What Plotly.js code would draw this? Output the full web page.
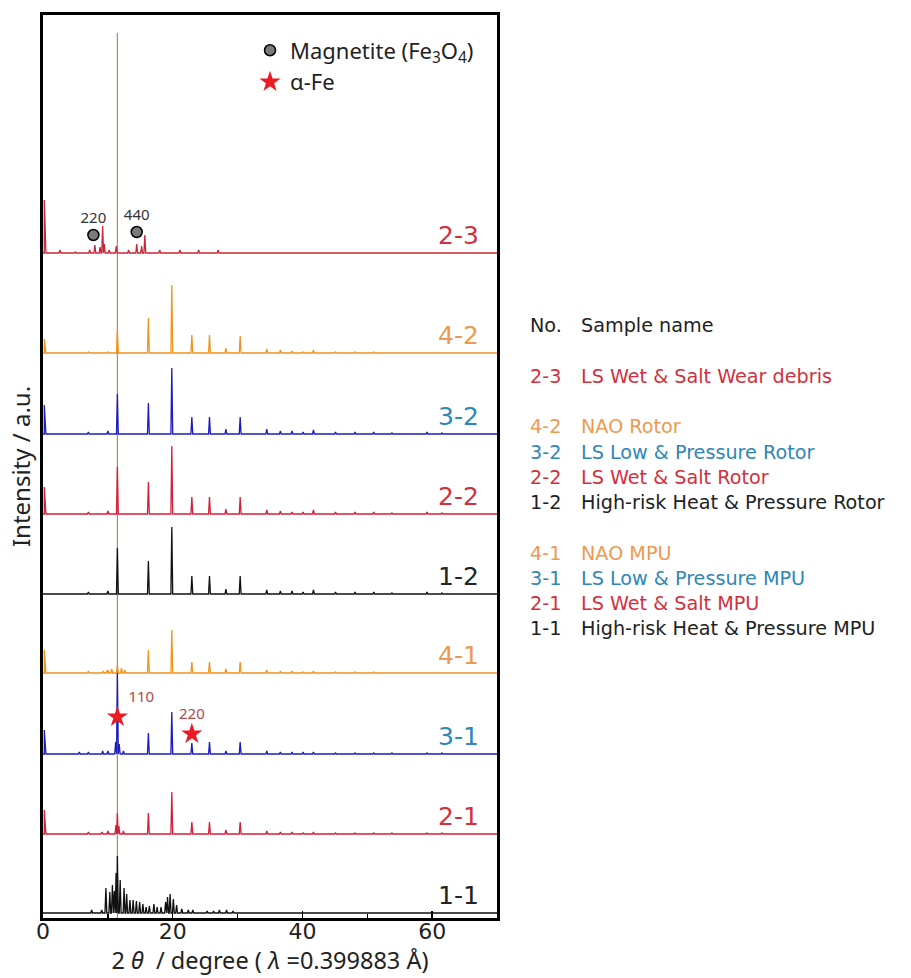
<!DOCTYPE html>
<html>
<head>
<meta charset="utf-8">
<script src="https://cdn.plot.ly/plotly-3.0.1.min.js"></script>
<style>html,body{margin:0;padding:0;background:#fff;}#chart{width:911px;height:978px;}</style>
</head>
<body>
<div id="chart"></div>
<script>
// ---------------- DATA ----------------
const sampleNo   = ['2-3','4-2','3-2','2-2','1-2','4-1','3-1','2-1','1-1'];
const sampleName = ['LS Wet & Salt Wear debris','NAO Rotor','LS Low & Pressure Rotor','LS Wet & Salt Rotor',
                    'High-risk Heat & Pressure Rotor','NAO MPU','LS Low & Pressure MPU','LS Wet & Salt MPU',
                    'High-risk Heat & Pressure MPU'];
// vertical stacking offsets (a.u.)
const offsets = [665, 565, 484, 404, 324, 245, 164, 84, 5];

// common diffraction peak positions (2θ, degree) for rotor / MPU samples
const phasePos = [7.0,10.0,11.47,16.25,19.86,22.95,25.67,28.2,30.4,34.5,36.6,38.4,40.1,41.7,45.1,48.1,51.0,53.8,59.2,61.5];
const int_4_2  = [1,1,23,35,68,18,18,5,17,4,3,2,1,3,1,1,1,0,0,0];
const int_3_2  = [2,3,40,31,66,17,17,5,17,5,3,3,2,4,2,2,2,1,2,1];
const int_2_2  = [2,3,47,32,68,17,17,5,17,4,3,2,2,4,2,2,2,1,2,1];
const int_1_2  = [2,3,46,33,67,18,18,5,18,4,3,3,2,4,2,2,2,1,2,1];
const int_4_1  = [2,3,8,23,43,11,11,4,11,3,2,2,1,2,1,1,1,0,0,0];
const int_3_1  = [2,3,81,21,42,11,12,3,12,3,2,2,2,2,1,1,1,1,1,1];
const int_2_1  = [2,3,21,21,42,12,12,4,12,3,2,2,1,2,1,1,1,1,1,1];
// additional small reflections
const extraPos_4_1 = [9.3,9.9,10.6,12.1,12.6];
const extraInt_4_1 = [2,3,4,5,3];
const extraPos_3_1 = [5.6,9.2,11.2,11.75,12.4];
const extraInt_3_1 = [2,3,12,10,3];
const extraPos_2_1 = [9.1,11.25,11.7,12.4];
const extraInt_2_1 = [2,9,8,3];

// 2-3 wear debris
const pos_2_3 = [2.6,5.0,7.2,8.0,8.8,9.2,9.45,10.2,11.3,13.2,14.45,15.2,15.7,18.0,21.1,24.0,27.0];
const int_2_3 = [3,1,3,8,6,27,9,3,7,3,9,7,18,3,3,3,3];

// 1-1 MPU
const pos_1_1 = [7.5,9.05,9.7,10.3,10.7,11.0,11.27,11.47,11.9,12.5,12.9,13.4,13.9,14.4,14.9,15.4,15.9,16.4,17.1,17.6,
                 18.2,18.9,19.2,19.6,20.1,20.6,21.4,22.4,23.1,25.3,26.3,27.2,28.3,29.3];
const int_1_1 = [3,3,25,21,28,22,40,57,33,25,19,13,13,12,11,9,6,7,9,6,
                 6,11,16,19,14,8,4,3,3,2,2,3,3,2];

// intensity at the low-angle edge (2θ ≈ 0)
const edgeInt = [53, 14, 29, 27, 0, 23, 24, 24, 0];

// reference 2θ line
const refTheta = 11.47;
const refTop = 885;

// phase markers
const magnetitePos = [7.77, 14.45];
const magnetiteHkl = ['220','440'];
const alphaFePos = [11.47, 22.95];
const alphaFeHkl = ['110','220'];

// ---------------- STYLE ----------------
const ORANGE = '#ee9420', BLUE = '#1c1cc0', RED = '#d41f3a', BLACK = '#111111';
const lineColors = ['#c8283a', ORANGE, BLUE, RED, BLACK, ORANGE, BLUE, RED, BLACK];
const labelColors = ['#d2303c','#ec9a50','#2f86b8','#d2303c','#222222','#ec9a50','#2f86b8','#d2303c','#222222'];
const FONT = 'Noto Sans, Open Sans, DejaVu Sans, sans-serif';
const WIDE = 'DejaVu Sans, Verdana, sans-serif';

function profile(pos, ints, edge) {
  const pairs = pos.map((p, i) => [p, ints[i]]).sort((a, b) => a[0] - b[0]);
  const xs = [0], ys = [0];
  if (edge > 0) { xs.push(0.2, 0.2, 0.45); ys.push(0, edge, 0); }
  const W = 0.14;
  pairs.forEach((pr, i) => {
    const prev = i > 0 ? pairs[i - 1][0] : -1;
    const next = i < pairs.length - 1 ? pairs[i + 1][0] : 100;
    const wl = Math.min(W, (pr[0] - prev) / 2), wr = Math.min(W, (next - pr[0]) / 2);
    xs.push(pr[0] - wl, pr[0], pr[0] + wr);
    ys.push(0, pr[1], 0);
  });
  xs.push(70); ys.push(0);
  return [xs, ys];
}

const sets = [
  [pos_2_3, int_2_3],
  [phasePos, int_4_2],
  [phasePos, int_3_2],
  [phasePos, int_2_2],
  [phasePos, int_1_2],
  [phasePos.concat(extraPos_4_1), int_4_1.concat(extraInt_4_1)],
  [phasePos.concat(extraPos_3_1), int_3_1.concat(extraInt_3_1)],
  [phasePos.concat(extraPos_2_1), int_2_1.concat(extraInt_2_1)],
  [pos_1_1, int_1_1]
];

const traces = [];
traces.push({x: [refTheta, refTheta], y: [0, refTop], mode: 'lines', line: {color: '#c08650', width: 1.2},
             showlegend: false, hoverinfo: 'skip'});
sets.forEach((s, i) => {
  const [xs, ys] = profile(s[0], s[1], edgeInt[i]);
  traces.push({x: xs, y: ys.map(v => v + offsets[i]), mode: 'lines', name: sampleNo[i],
               line: {color: lineColors[i], width: 1.3}, showlegend: false});
});

// magnetite markers on 2-3
traces.push({x: magnetitePos, y: [offsets[0] + 18, offsets[0] + 21], mode: 'markers+text',
  name: 'Magnetite (Fe<sub>3</sub>O<sub>4</sub>)',
  marker: {symbol: 'circle', size: 11, color: '#7a7a7a', line: {color: '#000', width: 1.5}},
  text: magnetiteHkl, textposition: 'top center', textfont: {family: FONT, size: 15, color: '#333'},
  showlegend: true});
// α-Fe markers on 3-1
traces.push({x: alphaFePos, y: [offsets[6] + 37, offsets[6] + 20], mode: 'markers+text', name: 'α-Fe',
  marker: {symbol: 'star', size: 16, color: '#ec1a22', line: {width: 0}},
  text: alphaFeHkl, textposition: ['top right', 'top center'], textfont: {family: FONT, size: 15, color: '#b04848'},
  showlegend: true});

const annotations = [];
sampleNo.forEach((n, i) => {
  annotations.push({xref: 'x', yref: 'y', x: 67.6, y: offsets[i] + 18, text: n, showarrow: false,
    xanchor: 'right', yanchor: 'middle', font: {family: WIDE, size: 25, color: labelColors[i]}});
});
// right-hand sample table
const plotTop = 15, plotBot = 918, plotH = plotBot - plotTop;
const rowY = [376, 427, 452, 477.7, 502.7, 553, 578, 603, 628];
const toPaperY = py => (plotBot - py) / plotH;
const colNo = (528 - 43) / 454, colName = (579 - 43) / 454;
const TFS = 19.2;
annotations.push({xref: 'paper', yref: 'paper', x: colNo, y: toPaperY(325), text: 'No.', showarrow: false,
  xanchor: 'left', yanchor: 'middle', font: {family: WIDE, size: TFS, color: '#222'}});
annotations.push({xref: 'paper', yref: 'paper', x: colName, y: toPaperY(325), text: 'Sample name', showarrow: false,
  xanchor: 'left', yanchor: 'middle', font: {family: WIDE, size: TFS, color: '#222'}});
sampleNo.forEach((n, i) => {
  annotations.push({xref: 'paper', yref: 'paper', x: colNo, y: toPaperY(rowY[i]), text: n, showarrow: false,
    xanchor: 'left', yanchor: 'middle', font: {family: WIDE, size: TFS, color: labelColors[i]}});
  annotations.push({xref: 'paper', yref: 'paper', x: colName, y: toPaperY(rowY[i]), text: sampleName[i], showarrow: false,
    xanchor: 'left', yanchor: 'middle', font: {family: WIDE, size: TFS, color: labelColors[i]}});
});

const layout = {
  width: 911, height: 978,
  margin: {l: 43, r: 414, t: 15, b: 60},
  paper_bgcolor: '#fff', plot_bgcolor: '#fff',
  font: {family: FONT, color: '#222'},
  xaxis: {range: [0, 70], dtick: 20, ticks: 'inside', ticklen: 7, tickwidth: 1.5, tickcolor: '#000',
    minor: {dtick: 10, ticks: 'inside', ticklen: 4, tickwidth: 1.5, tickcolor: '#000'},
    showline: true, linewidth: 3, linecolor: '#000', mirror: true, showgrid: false, zeroline: false,
    ticklabelstandoff: -8,
    tickfont: {family: WIDE, size: 22, color: '#222'},
    title: {text: '2 <i>θ</i>  / degree ( <i>λ</i> =0.399883 Å)', font: {family: FONT, size: 23.5, color: '#222'}, standoff: 0}},
  yaxis: {range: [0, 903], showticklabels: false, ticks: '', showline: true, linewidth: 3, linecolor: '#000',
    mirror: true, showgrid: false, zeroline: false,
    title: {text: 'Intensity / a.u.', font: {family: FONT, size: 24, color: '#222'}, standoff: 3}},
  showlegend: true,
  legend: {x: 0.456, y: 0.984, xanchor: 'left', yanchor: 'top', bgcolor: 'rgba(0,0,0,0)',
    font: {family: FONT, size: 22, color: '#222'}, tracegroupgap: 0},
  annotations: annotations
};

Plotly.newPlot('chart', traces, layout, {displayModeBar: false, staticPlot: true});
</script>
</body>
</html>
